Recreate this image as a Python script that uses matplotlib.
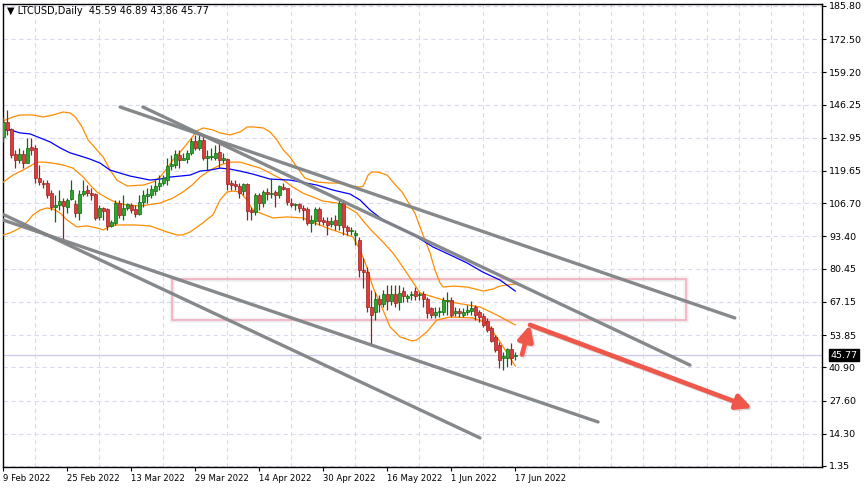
"""
LTCUSD daily candles with Bollinger bands, moving average, trend channel and target arrow.
Output: out.png
"""

import numpy as np
import pandas as pd
import matplotlib
matplotlib.use("Agg")
import matplotlib.pyplot as plt
from matplotlib.patches import Rectangle
from matplotlib.ticker import FixedLocator, MultipleLocator

# --- Data ---
START_DATE = "2022-02-09"

opens = [133.3, 139.3, 136.5, 126.6, 124.0, 126.6, 123.0, 129.3, 129.0, 117.0,
         115.0, 114.7, 110.8, 105.0, 106.0, 107.7, 105.0, 108.4, 106.4, 102.8,
         110.4, 112.0, 111.0, 110.4, 101.2, 104.8, 104.4, 97.6, 98.8, 106.8,
         102.0, 104.8, 106.0, 104.4, 102.4, 107.2, 109.6, 110.0, 111.6, 113.6,
         115.0, 116.0, 121.6, 122.0, 126.0, 124.0, 124.4, 126.8, 131.6, 128.8,
         132.0, 125.0, 125.2, 125.0, 127.2, 124.0, 124.4, 114.8, 114.4, 113.6,
         111.6, 114.4, 104.0, 103.2, 110.0, 106.8, 111.2, 110.4, 111.2, 110.0,
         113.2, 112.8, 107.0, 106.0, 106.4, 104.8, 104.4, 98.8, 99.6, 104.4,
         100.0, 99.6, 98.4, 100.0, 98.0, 106.8, 97.2, 95.6, 94.0, 92.0,
         80.0, 79.0, 65.0, 63.0, 68.4, 66.4, 70.4, 67.6, 70.4, 67.0,
         71.6, 68.6, 69.8, 71.6, 69.8, 70.4, 68.4, 64.5, 61.8, 63.0,
         63.0, 67.6, 68.0, 62.5, 63.5, 62.0, 63.0, 63.5, 65.0, 63.0,
         61.4, 59.5, 56.6, 53.0, 49.9, 44.6, 44.6, 48.3, 45.59]
highs = [141.3, 144.0, 137.0, 128.0, 128.8, 128.0, 132.8, 132.8, 130.0, 122.0,
         116.0, 116.0, 112.0, 110.0, 112.0, 108.8, 108.8, 116.0, 108.0, 112.0,
         116.0, 114.0, 113.0, 110.8, 106.0, 105.0, 104.8, 100.0, 108.0, 108.0,
         110.0, 107.0, 107.0, 106.0, 110.0, 112.0, 113.0, 114.0, 116.0, 118.0,
         118.0, 125.0, 126.0, 128.0, 128.0, 127.0, 128.0, 133.0, 134.0, 134.0,
         134.0, 128.0, 129.0, 130.0, 131.0, 127.0, 125.0, 116.0, 116.0, 115.0,
         115.0, 115.0, 105.0, 111.0, 111.0, 112.0, 113.0, 117.0, 112.0, 114.0,
         115.0, 113.0, 109.0, 107.0, 107.0, 106.0, 105.0, 102.0, 105.0, 105.0,
         101.0, 101.0, 101.0, 102.0, 108.0, 108.0, 98.0, 97.0, 96.0, 93.0,
         84.8, 81.0, 72.0, 71.0, 70.0, 72.0, 74.0, 74.0, 74.0, 74.0,
         73.0, 70.5, 71.5, 73.0, 71.0, 71.5, 69.0, 65.0, 65.0, 65.0,
         69.0, 71.0, 69.0, 65.0, 64.5, 64.5, 66.0, 67.5, 66.0, 64.0,
         62.5, 60.5, 57.5, 54.0, 51.0, 47.0, 48.7, 50.7, 46.89]
lows = [131.3, 134.0, 125.0, 121.0, 122.8, 121.0, 122.8, 126.0, 115.0, 114.0,
        112.8, 108.8, 104.0, 99.0, 104.0, 92.0, 102.8, 108.0, 101.0, 100.0,
        109.6, 109.6, 108.0, 100.0, 100.0, 100.0, 96.0, 97.2, 98.0, 100.8,
        100.0, 104.0, 102.8, 101.0, 102.0, 105.0, 107.0, 109.0, 110.0, 112.0,
        114.0, 114.0, 120.0, 120.8, 121.0, 124.0, 123.0, 126.0, 128.0, 128.0,
        124.0, 120.0, 124.0, 124.0, 121.0, 123.0, 112.0, 112.0, 112.0, 109.0,
        110.0, 100.0, 100.0, 102.0, 104.0, 105.0, 108.0, 109.0, 105.0, 109.0,
        112.0, 106.0, 105.0, 104.0, 103.0, 100.0, 98.0, 95.0, 98.0, 98.0,
        98.0, 94.0, 97.0, 96.0, 96.0, 94.0, 94.0, 94.0, 90.0, 77.0,
        72.8, 63.0, 49.9, 60.0, 63.0, 65.0, 64.0, 66.0, 65.0, 64.0,
        67.0, 67.0, 68.0, 67.8, 68.0, 65.0, 60.5, 60.5, 60.5, 61.0,
        62.0, 62.0, 61.0, 61.5, 61.0, 61.0, 62.0, 62.0, 60.0, 59.0,
        57.0, 55.0, 51.0, 47.0, 40.7, 40.0, 41.0, 42.0, 43.86]
closes = [139.3, 136.0, 126.0, 124.0, 126.5, 123.0, 129.0, 128.0, 116.8, 115.3,
          114.3, 110.0, 105.0, 106.0, 107.7, 105.4, 108.0, 112.0, 102.8, 110.4,
          111.6, 111.0, 110.0, 100.8, 104.8, 103.6, 97.6, 99.2, 106.8, 102.0,
          104.8, 106.4, 104.0, 102.4, 107.2, 110.0, 110.4, 112.4, 113.6, 115.0,
          116.8, 121.6, 122.4, 126.4, 124.0, 125.0, 126.8, 131.6, 128.8, 132.0,
          125.0, 125.6, 125.6, 127.0, 124.0, 125.0, 114.4, 114.0, 113.6, 111.0,
          114.4, 103.6, 103.2, 110.0, 106.8, 111.2, 110.4, 111.0, 110.0, 113.6,
          112.4, 107.2, 106.0, 106.4, 104.8, 104.0, 98.8, 100.0, 104.4, 99.6,
          99.0, 98.0, 99.6, 98.0, 106.8, 97.0, 95.6, 96.0, 94.8, 80.0,
          79.0, 65.0, 62.0, 68.4, 66.4, 70.4, 67.6, 70.4, 66.8, 70.8,
          69.5, 69.6, 70.4, 69.5, 70.4, 68.4, 62.8, 61.7, 63.0, 63.5,
          68.0, 68.0, 62.0, 63.5, 62.5, 63.0, 64.0, 64.5, 62.0, 61.0,
          57.8, 55.9, 51.5, 47.9, 43.8, 45.5, 48.3, 44.6, 45.77]

# Bollinger bands (20) and blue moving average, traced points: day offset, price
bb_up_day = [0, 2.4, 4.2, 7.4, 10, 12.4, 15, 16.7, 18, 19.7, 21.2, 23.4, 25, 26.7, 28.4,
             29.7, 31, 35, 37.4, 39.2, 41, 42.4, 44.7, 46.7, 48.4, 50, 52.4, 54.2, 56.7,
             59.2, 61, 62.4, 65, 66.7, 68.4, 70, 71.7, 73.4, 75.4, 78.4, 81.7, 85, 86.7,
             89.2, 90, 91.2, 92.2, 93.7, 96, 97.4, 99.7, 101.2, 102.9, 104.2, 105.4,
             106.7, 107.9, 109.2, 110, 112.4, 116, 120, 122.4, 124.2, 125.9, 128]
bb_up_val = [139.7, 141.3, 142.1, 142.1, 141.3, 142.1, 143.3, 142.9, 141.3, 137.3, 132.1,
             128.1, 125.2, 120.0, 116.0, 114.8, 113.6, 114.0, 115.2, 117.2, 120.8, 124.0,
             128.1, 132.1, 135.7, 136.9, 136.1, 134.9, 134.1, 135.3, 137.3, 137.3, 136.9,
             135.3, 132.1, 128.1, 125.2, 121.2, 116.8, 115.2, 114.8, 114.8, 113.6, 113.2,
             113.6, 118.0, 119.2, 119.2, 118.0, 115.2, 111.2, 107.2, 102.8, 97.2, 92.0,
             86.8, 80.0, 74.7, 73.1, 73.5, 73.1, 71.5, 72.3, 73.5, 73.9, 74.3]
bb_mid_day = [0, 2.4, 4.9, 6.7, 8.4, 10, 12.4, 15, 17.4, 20, 21.7, 23.4, 25.9, 28.4, 31,
              34.2, 39.2, 42.4, 44.9, 47.2, 49.2, 51.7, 54.2, 56.7, 59.2, 61.7, 64.2,
              66.7, 70, 72.4, 74.9, 77.4, 79.9, 83.4, 85.9, 88.4, 90.4, 92.4, 94.9, 97.4,
              99.9, 102.4, 104.2, 105.9, 111.7, 119.2, 123.4, 128]
bb_mid_val = [115.2, 118.0, 120.0, 121.6, 123.2, 123.2, 122.8, 122.0, 120.8, 117.2, 114.0,
              111.2, 108.8, 106.8, 106.0, 105.6, 106.8, 108.8, 111.2, 114.0, 117.2, 120.0,
              122.0, 123.2, 123.2, 122.0, 120.8, 118.8, 116.0, 113.2, 110.8, 109.2, 107.6,
              106.8, 105.2, 102.8, 98.8, 95.2, 91.2, 86.8, 81.1, 75.1, 70.7, 69.9, 67.1,
              65.1, 61.9, 57.9]
bb_low_day = [0, 1.7, 4.2, 5.9, 7.4, 9.2, 10.9, 12.4, 14.2, 15.9, 18.4, 20.9, 23.4, 25,
              26.7, 28.4, 32.9, 36.7, 40.9, 43.4, 44.9, 46.7, 49.2, 52.4, 54.2, 55.9, 57.4,
              59.2, 60.9, 62.4, 64.2, 67.4, 70.9, 74.9, 80.9, 87.4, 89.2, 90.9, 92.4, 94.2,
              96.7, 99.2, 102.2, 103.4, 105.9, 108.4, 111.7, 117.4, 120.9, 124.2, 128]
bb_low_val = [94.0, 94.8, 96.8, 99.2, 102.0, 104.0, 104.8, 104.4, 102.8, 100.0, 97.2, 97.6,
              96.8, 96.0, 97.6, 98.0, 98.0, 97.6, 95.2, 94.0, 94.0, 95.2, 98.0, 102.0, 108.0,
              111.2, 111.6, 111.2, 108.0, 104.0, 102.8, 100.8, 101.2, 100.8, 96.8, 93.2,
              88.0, 81.1, 73.1, 66.7, 57.1, 53.1, 51.5, 51.9, 55.1, 59.9, 61.1, 60.7, 58.7,
              51.1, 41.4]
ma_day = [0, 1.7, 4.2, 6.7, 9.2, 11.7, 14.2, 16.7, 19.2, 21.7, 24.2, 26.7, 29.2, 31.7,
          36.7, 39.2, 41.7, 44.2, 46.7, 49.2, 51.7, 54.2, 56.7, 59.2, 62.4, 66.7, 71.7,
          78.4, 82.4, 86.7, 89.2, 91.7, 94.9, 99.2, 103.4, 107.4, 111.7, 115.9, 119.9,
          124.2, 128]
ma_val = [136.1, 136.1, 134.9, 134.5, 132.9, 131.3, 128.9, 126.9, 125.7, 124.4, 122.8,
          120.0, 118.8, 117.6, 116.0, 116.4, 117.2, 117.6, 118.0, 119.6, 120.0, 120.8,
          120.4, 119.6, 118.4, 116.4, 116.0, 114.0, 112.0, 110.4, 108.0, 104.0, 100.0,
          96.8, 93.2, 89.2, 86.0, 82.8, 79.1, 75.9, 71.5]

# Trend lines: start (day, price) -> end (day, price)
trend_d0 = [29.2, 34.9, -0.8, -0.8]
trend_p0 = [145.3, 145.3, 102.8, 100.4]
trend_d1 = [182.9, 171.7, 119.2, 148.7]
trend_p1 = [60.7, 41.8, 12.6, 19.0]

# Support/resistance zone
zone_days = [42.2, 170.7]
zone_prices = [59.9, 76.3]

# Projection arrow: bounce point, turn point, target
arrow_days = [129.7, 131.7, 187.2]
arrow_prices = [46.0, 57.9, 24.6]

y_ticks = [185.80, 172.50, 159.20, 146.25, 132.95, 119.65, 106.70, 93.40,
           80.45, 67.15, 53.85, 40.90, 27.60, 14.30, 1.35]

SYMBOL = "LTCUSD,Daily"

# --- Style ---
GREEN_BODY = "#2fa52f"
GREEN_EDGE = "#0b6b0b"
RED_BODY = "#e03a3a"
RED_EDGE = "#962020"
BAND_C = "#ff8c00"
MA_C = "#0000ff"
TREND_C = "#808386"
GRID_C = "#d9d9f0"
ZONE_C = "#f7a9bb"
ARROW_C = "#f0574b"
FONT = "DejaVu Sans"

plt.rcParams["font.family"] = FONT

dates = pd.date_range(START_DATE, periods=len(closes), freq="D")
x = np.arange(len(closes))
o = np.array(opens); h = np.array(highs); l = np.array(lows); c = np.array(closes)

W, H = 866, 491
fig = plt.figure(figsize=(W / 100, H / 100), dpi=100, facecolor="white")
# axes box in pixels: left 2.5, right 822, top 4, bottom 467
ax = fig.add_axes([2.5 / W, 1 - 467 / H, (822 - 2.5) / W, (467 - 4) / H])
ax.set_xlim(-0.2, 204.7)
ax.set_ylim(0.94, 186.6)

for s in ax.spines.values():
    s.set_color("black")
    s.set_linewidth(1.0)

# grid
ax.yaxis.tick_right()
ax.yaxis.set_major_locator(FixedLocator(y_ticks))
ax.set_yticklabels([f"{v:.2f}" for v in y_ticks])
label_idx = list(range(0, len(closes), 16))
ax.xaxis.set_major_locator(FixedLocator(label_idx))
ax.set_xticklabels([f"{dates[i].day} {dates[i].strftime('%b %Y')}" for i in label_idx],
                   ha="left")
ax.xaxis.set_minor_locator(MultipleLocator(8))
ax.tick_params(axis="both", which="major", direction="out", length=3, width=0.8,
               colors="black", labelsize=6.8, pad=2)
ax.tick_params(axis="x", which="major", labelsize=6.1)
ax.tick_params(axis="x", which="minor", length=0)
ax.grid(True, axis="y", which="major", color=GRID_C, linestyle=(0, (4, 3)), linewidth=0.8)
ax.grid(True, axis="x", which="minor", color=GRID_C, linestyle=(0, (4, 3)), linewidth=0.8)
ax.set_axisbelow(True)

# last price line
ax.axhline(c[-1], color="#c9c9ef", linewidth=0.9, zorder=1)

# zone
for lw_, a_ in ((4.0, 0.08), (2.5, 0.12)):
    ax.add_patch(Rectangle((zone_days[0], zone_prices[0]), zone_days[1] - zone_days[0],
                           zone_prices[1] - zone_prices[0], fill=False,
                           edgecolor="#999999", linewidth=lw_, alpha=a_, zorder=2))
ax.add_patch(Rectangle((zone_days[0], zone_prices[0]), zone_days[1] - zone_days[0],
                       zone_prices[1] - zone_prices[0], fill=False,
                       edgecolor=ZONE_C, linewidth=1.1, zorder=2))

# indicators
ax.plot(bb_up_day, bb_up_val, color=BAND_C, lw=0.9, zorder=3)
ax.plot(bb_mid_day, bb_mid_val, color=BAND_C, lw=0.9, zorder=3)
ax.plot(bb_low_day, bb_low_val, color=BAND_C, lw=0.9, zorder=3)
ax.plot(ma_day, ma_val, color=MA_C, lw=0.9, zorder=3)

# candles
up = c >= o
body_lo = np.minimum(o, c)
body_h = np.maximum(np.abs(c - o), 0.35)
ax.vlines(x[up], l[up], h[up], colors=GREEN_EDGE, linewidth=0.9, zorder=4)
ax.vlines(x[~up], l[~up], h[~up], colors=RED_EDGE, linewidth=0.9, zorder=4)
ax.bar(x[up], body_h[up], bottom=body_lo[up], width=0.72, color=GREEN_BODY,
       edgecolor=GREEN_EDGE, linewidth=0.5, zorder=5)
ax.bar(x[~up], body_h[~up], bottom=body_lo[~up], width=0.72, color=RED_BODY,
       edgecolor=RED_EDGE, linewidth=0.5, zorder=5)

# trend lines
for d0, p0, d1, p1 in zip(trend_d0, trend_p0, trend_d1, trend_p1):
    ax.plot([d0, d1], [p0, p1], color=TREND_C, lw=2.4, alpha=0.95,
            solid_capstyle="round", zorder=6)

# projection arrow (shadow first)
def draw_arrow(p_from, p_to, color, alpha, off=(0, 0)):
    ax.annotate("", xy=(p_to[0] + off[0], p_to[1] + off[1]),
                xytext=(p_from[0] + off[0], p_from[1] + off[1]),
                arrowprops=dict(arrowstyle="-|>,head_length=0.9,head_width=0.45",
                                color=color, lw=3.4, alpha=alpha,
                                shrinkA=0, shrinkB=0), zorder=7)

pts = list(zip(arrow_days, arrow_prices))
draw_arrow(pts[0], pts[1], "#888888", 0.25, off=(0.4, -0.6))
draw_arrow(pts[1], pts[2], "#888888", 0.25, off=(0.4, -0.6))
draw_arrow(pts[0], pts[1], ARROW_C, 1.0)
draw_arrow(pts[1], pts[2], ARROW_C, 1.0)

# last price tag
ax.annotate(f"{c[-1]:.2f}", xy=(1.0, c[-1]), xycoords=("axes fraction", "data"),
            xytext=(6, 0), textcoords="offset points", ha="left", va="center",
            fontsize=6.8, color="white",
            bbox=dict(boxstyle="square,pad=0.15", fc="black", ec="black"))

# header
fig.text(7 / W, 1 - 11 / H,
         f"\u25BC {SYMBOL}  {o[-1]:.2f} {h[-1]:.2f} {l[-1]:.2f} {c[-1]:.2f}",
         fontsize=7, color="black", va="center", ha="left")

fig.savefig("out.png", dpi=100, facecolor="white")
